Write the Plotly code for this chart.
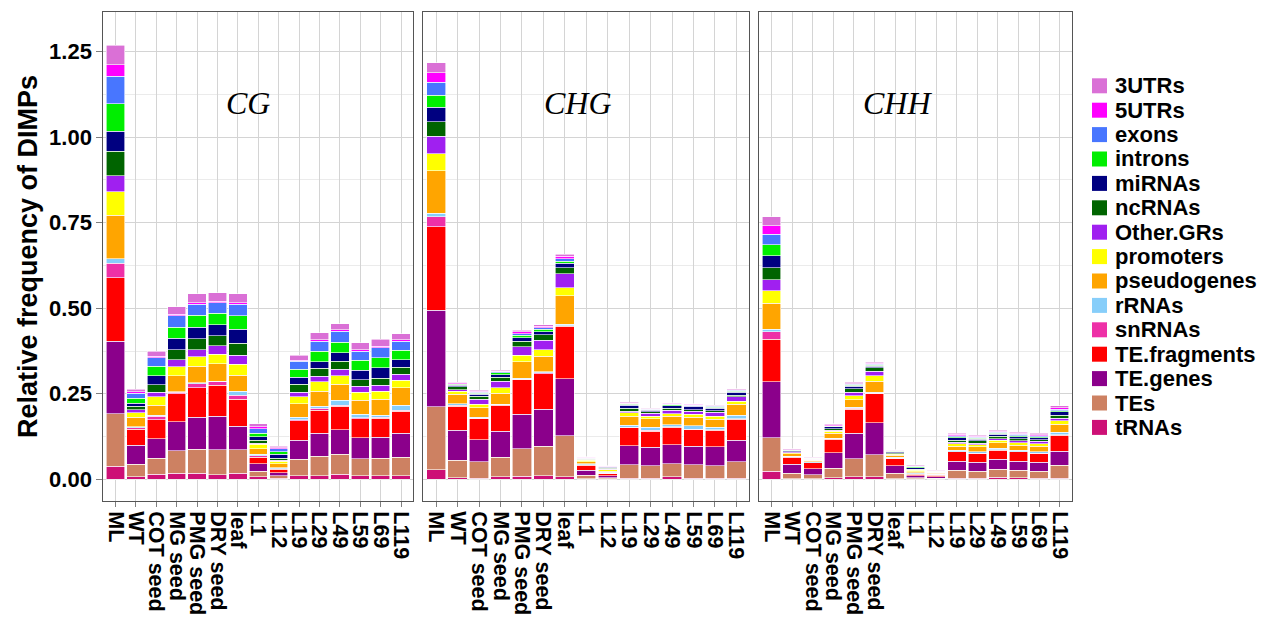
import plotly.graph_objects as go

categories = ["ML", "WT", "COT seed", "MG seed", "PMG seed", "DRY seed", "leaf",
              "L1", "L12", "L19", "L29", "L49", "L59", "L69", "L119"]

# stacking order bottom -> top
series_names = ["tRNAs", "TEs", "TE.genes", "TE.fragments", "snRNAs", "rRNAs",
                "pseudogenes", "promoters", "Other.GRs", "ncRNAs", "miRNAs",
                "introns", "exons", "5UTRs", "3UTRs"]

series_colors = ["#CD1076", "#CD8162", "#8B008B", "#FF0000", "#EE30A7", "#87CEFA",
                 "#FFA500", "#FFFF00", "#A020F0", "#006400", "#000080",
                 "#00EE00", "#4876FF", "#FF00FF", "#DA70D6"]

y_tick_values = [0, 0.25, 0.5, 0.75, 1.0, 1.25]
y_tick_labels = ["0.00", "0.25", "0.50", "0.75", "1.00", "1.25"]

# ---- CG ----
cg_tRNAs = [.038, .007, .015, .017, .017, .014, .017, .007, .003, .010, .010, .015, .010, .010, .010]
cg_TEs = [.154, .037, .047, .066, .071, .073, .070, .017, .007, .048, .057, .058, .050, .052, .055]
cg_TE_genes = [.211, .055, .056, .085, .094, .098, .068, .022, .009, .056, .068, .072, .061, .061, .069]
cg_TE_fragments = [.186, .048, .056, .082, .085, .090, .079, .019, .010, .057, .067, .069, .056, .056, .065]
cg_snRNAs = [.042, .004, .010, .005, .013, .010, .012, .004, .002, .003, .005, .002, .003, .003, .003]
cg_rRNAs = [.013, .002, .003, .001, .002, .002, .011, .004, .003, .008, .006, .015, .010, .005, .014]
cg_pseudogenes = [.128, .028, .029, .046, .048, .051, .047, .017, .012, .039, .044, .047, .041, .047, .051]
cg_promoters = [.069, .014, .025, .027, .028, .028, .032, .012, .007, .020, .028, .024, .024, .024, .022]
cg_Other_GRs = [.047, .008, .013, .020, .021, .024, .026, .004, .003, .014, .016, .019, .017, .017, .018]
cg_ncRNAs = [.071, .011, .022, .030, .032, .030, .035, .008, .006, .023, .023, .024, .019, .021, .021]
cg_miRNAs = [.059, .008, .027, .033, .034, .032, .042, .010, .011, .021, .019, .025, .028, .030, .022]
cg_introns = [.080, .015, .027, .033, .035, .034, .039, .010, .007, .023, .031, .031, .029, .029, .027]
cg_exons = [.080, .014, .026, .033, .032, .030, .033, .014, .009, .023, .030, .032, .026, .029, .027]
cg_5UTRs = [.033, .005, .004, .004, .004, .004, .005, .005, .003, .003, .004, .004, .005, .005, .004]
cg_3UTRs = [.057, .007, .015, .023, .026, .026, .026, .010, .005, .015, .020, .018, .020, .020, .018]

# ---- CHG ----
chg_tRNAs = [.028, .004, .003, .007, .009, .011, .007, .001, .001, .003, .003, .007, .003, .003, .003]
chg_TEs = [.184, .052, .048, .058, .080, .085, .120, .011, .004, .040, .036, .038, .040, .036, .048]
chg_TE_genes = [.282, .087, .065, .076, .101, .109, .167, .014, .006, .055, .054, .056, .053, .056, .063]
chg_TE_fragments = [.244, .070, .061, .075, .101, .104, .153, .015, .006, .052, .048, .051, .049, .048, .061]
chg_snRNAs = [.029, .003, .002, .002, .002, .002, .002, .001, .001, .002, .002, .002, .002, .002, .002]
chg_rRNAs = [.010, .005, .003, .001, .003, .003, .004, .004, .002, .006, .009, .006, .009, .007, .010]
chg_pseudogenes = [.125, .028, .027, .033, .047, .046, .083, .005, .004, .027, .025, .024, .026, .024, .032]
chg_promoters = [.050, .009, .010, .015, .019, .019, .024, .005, .004, .009, .007, .008, .008, .008, .009]
chg_Other_GRs = [.051, .004, .015, .020, .025, .027, .041, .001, .002, .005, .009, .010, .009, .012, .013]
chg_ncRNAs = [.042, .008, .009, .012, .017, .017, .018, .002, .002, .008, .004, .005, .005, .004, .005]
chg_miRNAs = [.042, .005, .006, .006, .010, .008, .012, .002, .003, .009, .005, .008, .009, .008, .009]
chg_introns = [.036, .003, .003, .006, .007, .007, .007, .001, .001, .003, .002, .003, .002, .003, .003]
chg_exons = [.037, .002, .002, .003, .005, .005, .007, .001, .001, .002, .001, .002, .002, .002, .002]
chg_5UTRs = [.028, .002, .003, .002, .005, .004, .007, .001, .001, .002, .001, .002, .002, .002, .002]
chg_3UTRs = [.030, .002, .003, .003, .004, .005, .006, .002, .002, .002, .002, .002, .002, .001, .003]

# ---- CHH ----
chh_tRNAs = [.023, .002, .002, .004, .007, .007, .002, .001, .001, .003, .003, .006, .005, .003, .003]
chh_TEs = [.099, .015, .011, .029, .053, .065, .015, .003, .002, .023, .021, .024, .021, .021, .038]
chh_TE_genes = [.163, .027, .018, .045, .074, .093, .022, .006, .004, .027, .026, .028, .027, .026, .041]
chh_TE_fragments = [.124, .021, .017, .039, .071, .085, .021, .005, .005, .027, .025, .027, .027, .025, .047]
chh_snRNAs = [.022, .001, .001, .001, .002, .002, .001, .001, .001, .001, .001, .001, .001, .001, .001]
chh_rRNAs = [.008, .002, .002, .002, .003, .003, .003, .003, .002, .004, .004, .005, .004, .004, .008]
chh_pseudogenes = [.075, .007, .003, .015, .023, .032, .006, .003, .002, .012, .015, .016, .015, .017, .023]
chh_promoters = [.037, .003, .002, .005, .011, .015, .003, .004, .002, .007, .006, .007, .007, .007, .010]
chh_Other_GRs = [.033, .002, .002, .003, .011, .014, .002, .002, .001, .004, .005, .005, .006, .007, .008]
chh_ncRNAs = [.034, .001, .001, .005, .010, .010, .002, .002, .001, .006, .006, .007, .006, .005, .008]
chh_miRNAs = [.035, .003, .001, .005, .007, .005, .003, .004, .001, .007, .005, .006, .006, .006, .010]
chh_introns = [.032, .001, .001, .002, .003, .003, .002, .002, .001, .003, .003, .003, .003, .003, .004]
chh_exons = [.031, .001, .001, .002, .003, .003, .001, .002, .001, .004, .003, .003, .003, .003, .004]
chh_5UTRs = [.025, .001, .001, .002, .002, .002, .002, .002, .001, .003, .003, .003, .003, .002, .004]
chh_3UTRs = [.026, .002, .001, .003, .003, .003, .002, .003, .001, .003, .003, .003, .003, .004, .006]

facet_labels = ["CG", "CHG", "CHH"]
facet_label_x = [6.5, 6.6, 6.1]
facet_label_y = 1.10

facets = [
    [cg_tRNAs, cg_TEs, cg_TE_genes, cg_TE_fragments, cg_snRNAs, cg_rRNAs, cg_pseudogenes,
     cg_promoters, cg_Other_GRs, cg_ncRNAs, cg_miRNAs, cg_introns, cg_exons, cg_5UTRs, cg_3UTRs],
    [chg_tRNAs, chg_TEs, chg_TE_genes, chg_TE_fragments, chg_snRNAs, chg_rRNAs, chg_pseudogenes,
     chg_promoters, chg_Other_GRs, chg_ncRNAs, chg_miRNAs, chg_introns, chg_exons, chg_5UTRs, chg_3UTRs],
    [chh_tRNAs, chh_TEs, chh_TE_genes, chh_TE_fragments, chh_snRNAs, chh_rRNAs, chh_pseudogenes,
     chh_promoters, chh_Other_GRs, chh_ncRNAs, chh_miRNAs, chh_introns, chh_exons, chh_5UTRs, chh_3UTRs],
]

W, H = 1270, 621
OFF = 8  # page body margin offset
FONT = "Liberation Sans"


def px(xv):
    return (xv - OFF) / W


def py(yv):
    return 1 - (yv - OFF) / H


fig = go.Figure()
for si, name in enumerate(series_names):
    for fi, facet in enumerate(facets):
        suffix = "" if fi == 0 else str(fi + 1)
        fig.add_trace(go.Bar(
            x=categories, y=facet[si],
            name=name, showlegend=False,
            marker=dict(color=series_colors[si],
                        line=dict(color="rgba(255,255,255,0.85)", width=0.7)),
            xaxis="x" + suffix, yaxis="y" + suffix,
        ))

x_domains = [[px(103.3), px(413.3)], [px(423.3), px(749.3)], [px(759.3), px(1072)]]
y_domain = [py(501), py(12.3)]
y_range = [-0.0634, 1.365]

layout = dict(
    width=W, height=H,
    margin=dict(l=0, r=0, t=0, b=0),
    paper_bgcolor="white", plot_bgcolor="white",
    barmode="stack", bargap=0.1,
    font=dict(family=FONT, color="black"),
    showlegend=False,
)

for fi in range(3):
    suffix = "" if fi == 0 else str(fi + 1)
    layout["xaxis" + suffix] = dict(
        domain=x_domains[fi], anchor="y" + suffix, type="category",
        categoryorder="array", categoryarray=categories,
        tickmode="array", tickvals=categories, ticktext=categories,
        range=[-0.6, 14.6],
        showgrid=True, gridcolor="#d4d4d4", gridwidth=1,
        showline=True, mirror=True, linecolor="#555555", linewidth=1,
        ticks="outside", ticklen=5, tickcolor="#7f7f7f",
        tickangle=90, automargin=False,
        tickfont=dict(family=FONT, size=21.5, weight="bold", color="black"),
        zeroline=False,
    )
    layout["yaxis" + suffix] = dict(
        domain=y_domain, anchor="x" + suffix, range=y_range,
        tickmode="array", tickvals=y_tick_values, ticktext=y_tick_labels,
        showgrid=True, gridcolor="#d4d4d4", gridwidth=1,
        minor=dict(tickmode="array", tickvals=[0.125, 0.375, 0.625, 0.875, 1.125],
                   showgrid=True, gridcolor="#ebebeb", gridwidth=1, ticks=""),
        showline=True, mirror=True, linecolor="#555555", linewidth=1,
        ticks="outside" if fi == 0 else "", ticklen=6, tickcolor="#7f7f7f",
        showticklabels=(fi == 0), automargin=False,
        tickfont=dict(family=FONT, size=22, weight="bold", color="black"),
        zeroline=False,
    )
    if fi > 0:
        layout["yaxis" + suffix]["matches"] = "y"

annotations = []
shapes = []
for fi in range(3):
    suffix = "" if fi == 0 else str(fi + 1)
    annotations.append(dict(
        x=facet_label_x[fi], y=facet_label_y, xref="x" + suffix, yref="y" + suffix,
        text=facet_labels[fi], showarrow=False,
        font=dict(family="Liberation Serif", size=32, style="italic", color="black"),
    ))
annotations.append(dict(
    x=px(28), y=py(257), xref="paper", yref="paper", xanchor="center", yanchor="middle",
    text="Relative frequency of DIMPs", textangle=-90, showarrow=False,
    font=dict(family=FONT, size=27, weight="bold", color="black"),
))

# manual legend (top entry = last stacked series)
leg_top = 85.8
leg_step = 24.4
for k, si in enumerate(reversed(range(len(series_names)))):
    cy = leg_top + k * leg_step
    shapes.append(dict(type="rect", xref="paper", yref="paper",
                       x0=px(1092), x1=px(1107), y0=py(cy + 7.5), y1=py(cy - 7.5),
                       fillcolor=series_colors[si], line=dict(width=0)))
    annotations.append(dict(
        x=px(1113), y=py(cy), xref="paper", yref="paper", xanchor="left", yanchor="middle",
        text=series_names[si], showarrow=False,
        font=dict(family=FONT, size=22, weight="bold", color="black"),
    ))

layout["annotations"] = annotations
layout["shapes"] = shapes

fig.update_layout(**layout)
fig.write_html("out.html")
